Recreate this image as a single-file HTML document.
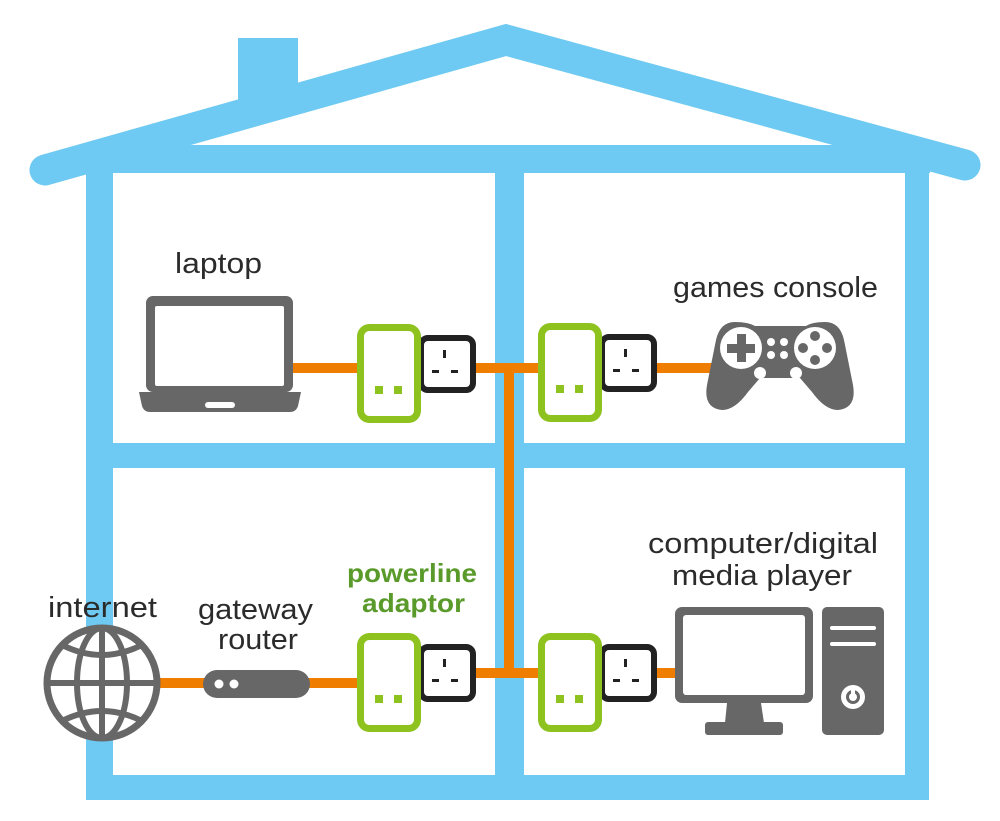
<!DOCTYPE html>
<html><head><meta charset="utf-8"><style>
html,body{margin:0;padding:0;background:#fff;}
svg{display:block;}
text{font-family:"Liberation Sans",sans-serif;fill:#2b2b2b;font-size:29px;}
</style></head><body>
<svg width="1000" height="821" viewBox="0 0 1000 821" xmlns="http://www.w3.org/2000/svg">
<g fill="#6ecaf2">
<rect x="238" y="38" width="60" height="70"/>
<polyline points="45,170 506,40 965,165" fill="none" stroke="#6ecaf2" stroke-width="31" stroke-linecap="round" stroke-linejoin="miter"/>
<rect x="100" y="145" width="830" height="28"/>
<rect x="86" y="160" width="27" height="640"/>
<rect x="905" y="160" width="24" height="640"/>
<rect x="495" y="160" width="29" height="640"/>
<rect x="86" y="443" width="843" height="25"/>
<rect x="86" y="775" width="843" height="25"/>
</g>
<g stroke="#ef7d00" stroke-width="10" fill="none">
<line x1="290" y1="368" x2="360" y2="368"/>
<line x1="470" y1="368" x2="545" y2="368"/>
<line x1="655" y1="368" x2="712" y2="368"/>
<line x1="509" y1="368" x2="509" y2="673"/>
<line x1="150" y1="683" x2="360" y2="683"/>
<line x1="470" y1="673" x2="545" y2="673"/>
<line x1="655" y1="673" x2="680" y2="673"/>
</g>
<g id="ad">
<rect x="421" y="338" width="52" height="52" rx="7" fill="#fff" stroke="#222" stroke-width="6"/>
<rect x="360.5" y="327.5" width="57" height="92" rx="9" fill="#fff" stroke="#8dc21f" stroke-width="7"/>
<rect x="375" y="386" width="8" height="8" fill="#8dc21f"/>
<rect x="394" y="386" width="8" height="8" fill="#8dc21f"/>
<rect x="443" y="350" width="3" height="8" fill="#222"/>
<rect x="432" y="370" width="7" height="3" fill="#222"/>
<rect x="451" y="370" width="7" height="3" fill="#222"/>
</g>
<use href="#ad" x="181" y="-1"/>
<use href="#ad" x="0" y="309"/>
<use href="#ad" x="181" y="309"/>
<g fill="#676767">
<rect x="146" y="296" width="147" height="96" rx="7"/>
<path d="M139 392 L301 392 L298 406 Q296 412 290 412 L150 412 Q144 412 142 406 Z"/>
</g>
<rect x="155" y="306" width="129" height="80" rx="2" fill="#fff"/>
<rect x="205" y="402" width="30" height="6" rx="3" fill="#fff"/>
<g fill="#676767">
<path d="M735 322 Q720 322 716 340 L707 385 Q703 408 722 410 Q735 410 748 392 L760 378 L800 378 L812 392 Q825 410 838 410 Q857 408 853 385 L844 340 Q840 322 825 322 Q812 322 806 326 L755 326 Q748 322 735 322 Z"/>
</g>
<g fill="#fff">
<circle cx="741" cy="348" r="21"/>
<circle cx="815" cy="348" r="21"/>
<circle cx="771" cy="342" r="4"/><circle cx="784" cy="342" r="4"/>
<circle cx="771" cy="355" r="4"/><circle cx="784" cy="355" r="4"/>
<circle cx="760" cy="373" r="6"/><circle cx="796" cy="373" r="6"/>
</g>
<g fill="#676767">
<rect x="727" y="344" width="28" height="9"/><rect x="737" y="334" width="9" height="28"/>
<circle cx="815" cy="336" r="5"/><circle cx="815" cy="360" r="5"/>
<circle cx="803" cy="348" r="5"/><circle cx="827" cy="348" r="5"/>
</g>
<g fill="none" stroke="#676767" stroke-width="6">
<circle cx="102" cy="683" r="55" fill="#fff" stroke-width="7"/>
<ellipse cx="102" cy="683" rx="25" ry="55"/>
<line x1="102" y1="628" x2="102" y2="738"/>
<line x1="47" y1="683" x2="157" y2="683"/>
<path d="M62 645 Q102 665 142 645"/>
<path d="M62 721 Q102 701 142 721"/>
</g>
<rect x="203" y="670" width="107" height="28" rx="14" fill="#676767"/>
<circle cx="219" cy="684" r="4.5" fill="#fff"/><circle cx="234" cy="684" r="4.5" fill="#fff"/>
<rect x="675" y="607" width="138" height="96" rx="7" fill="#676767"/>
<rect x="683" y="615" width="122" height="80" rx="3" fill="#fff"/>
<path d="M727 703 L761 703 L764 723 L725 723 Z" fill="#676767"/>
<rect x="705" y="722" width="78" height="13" rx="3" fill="#676767"/>
<rect x="822" y="607" width="62" height="128" rx="5" fill="#676767"/>
<rect x="830" y="626" width="46" height="4" rx="2" fill="#fff"/>
<rect x="830" y="642" width="46" height="4" rx="2" fill="#fff"/>
<circle cx="853" cy="697" r="12" fill="#fff"/>
<circle cx="853" cy="697" r="5.5" fill="none" stroke="#676767" stroke-width="3"/>
<rect x="851" y="688" width="4" height="7" fill="#fff"/>
<text x="175" y="273" textLength="87" lengthAdjust="spacingAndGlyphs">laptop</text>
<text x="673" y="297" textLength="205" lengthAdjust="spacingAndGlyphs">games console</text>
<text x="648" y="553" textLength="230" lengthAdjust="spacingAndGlyphs">computer/digital</text>
<text x="672" y="585" textLength="180" lengthAdjust="spacingAndGlyphs">media player</text>
<text x="48" y="617" textLength="109" lengthAdjust="spacingAndGlyphs">internet</text>
<text x="198" y="619" textLength="115" lengthAdjust="spacingAndGlyphs">gateway</text>
<text x="218" y="649" textLength="80" lengthAdjust="spacingAndGlyphs">router</text>
<text x="347" y="582" textLength="130" lengthAdjust="spacingAndGlyphs" style="fill:#5a9a2a;font-weight:bold;font-size:26px">powerline</text>
<text x="362" y="612" textLength="103" lengthAdjust="spacingAndGlyphs" style="fill:#5a9a2a;font-weight:bold;font-size:26px">adaptor</text>
</svg>
</body></html>
